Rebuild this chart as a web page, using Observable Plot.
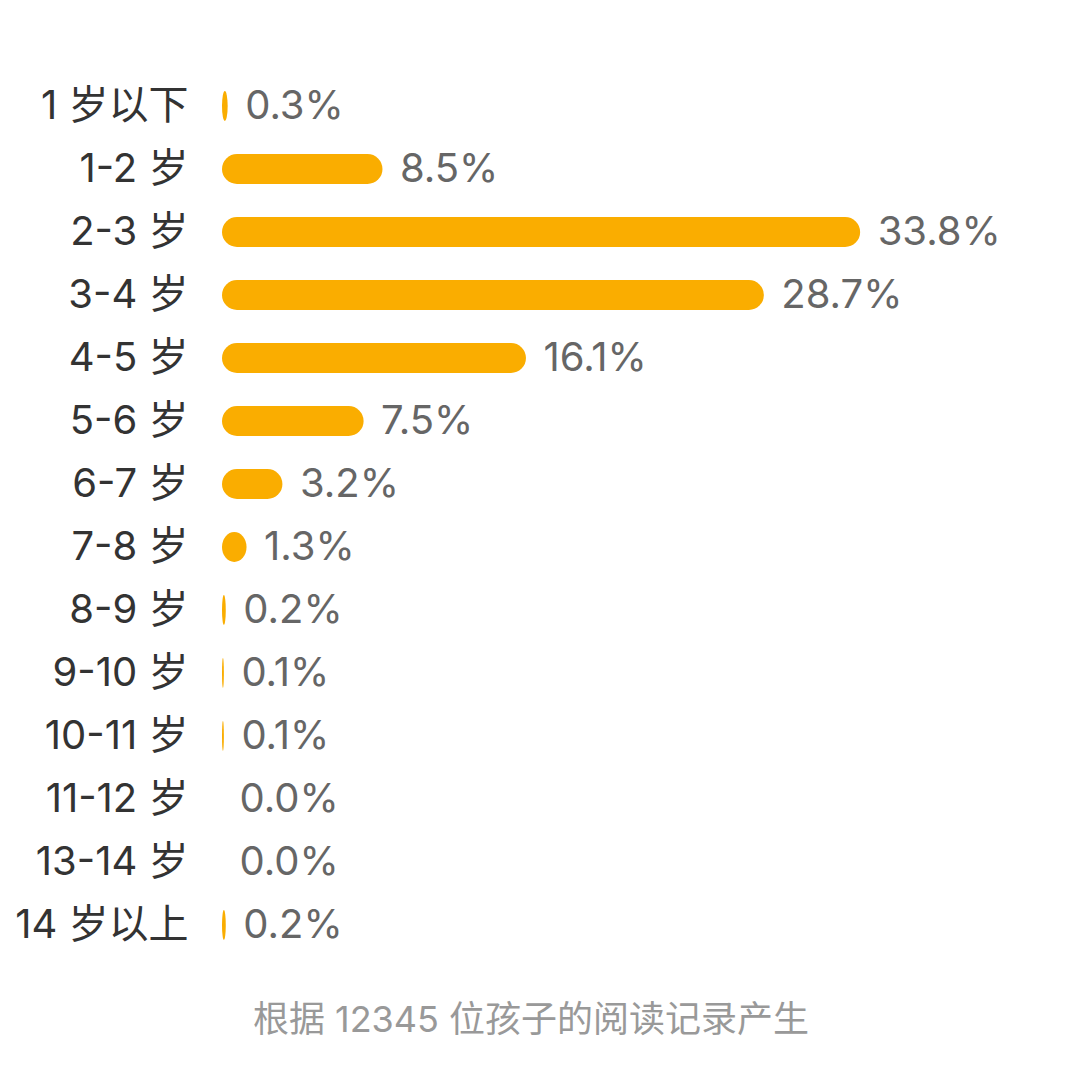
<!DOCTYPE html>
<html>
<head>
<meta charset="utf-8">
<script src="https://cdn.jsdelivr.net/npm/d3@7"></script>
<script src="https://cdn.jsdelivr.net/npm/@observablehq/plot@0.6"></script>
<style>
  html, body { margin: 0; padding: 0; background: #fff; }
  #chart svg { display: block; }
  #caption {
    width: 1062px;
    text-align: center;
    font-family: Inter, "Noto Sans CJK SC", sans-serif;
    font-size: 36px;
    color: #999;
    margin-top: 16px;
  }
</style>
</head>
<body>
<div id="chart"></div>
<div id="caption">根据 12345 位孩子的阅读记录产生</div>
<script>
const ages = ["1岁以下", "1-2岁", "2-3岁", "3-4岁", "4-5岁", "5-6岁", "6-7岁", "7-8岁", "8-9岁", "9-10岁", "10-11岁", "11-12岁", "13-14岁", "14岁以上"];
const shares = [0.3, 8.5, 33.8, 28.7, 16.1, 7.5, 3.2, 1.3, 0.2, 0.1, 0.1, 0.0, 0.0, 0.2];

const data = ages.map((age, i) => ({age, share: shares[i]}));
const fmt = d3.format(".1f");
const font = "Inter, 'Noto Sans CJK SC', sans-serif";
// display: a space between a digit and the following CJK character, as in the reference
const spaced = s => s.replace(/(\d)(岁)/, "$1 $2");

const chart = Plot.plot({
  width: 1092,
  height: 974,
  marginTop: 57,
  marginBottom: 0,
  marginLeft: 222,
  marginRight: 0,
  style: {fontFamily: font, background: "#fff"},
  x: {domain: [0, 40], range: [222, 222 + 40 * 18.88], axis: null},
  y: {domain: ages, padding: 0.525, axis: null},
  marks: [
    Plot.barX(data, {x: "share", y: "age", fill: "#FAAD00", rx: 15}),
    Plot.text(data, {x: 0, y: "age", text: d => spaced(d.age), dx: -34, textAnchor: "end", fill: "#333", fontSize: 40}),
    Plot.text(data, {x: "share", y: "age", text: d => fmt(d.share) + "%", dx: 17, textAnchor: "start", fill: "#666", fontSize: 40})
  ]
});
document.getElementById("chart").appendChild(chart);
</script>
</body>
</html>
